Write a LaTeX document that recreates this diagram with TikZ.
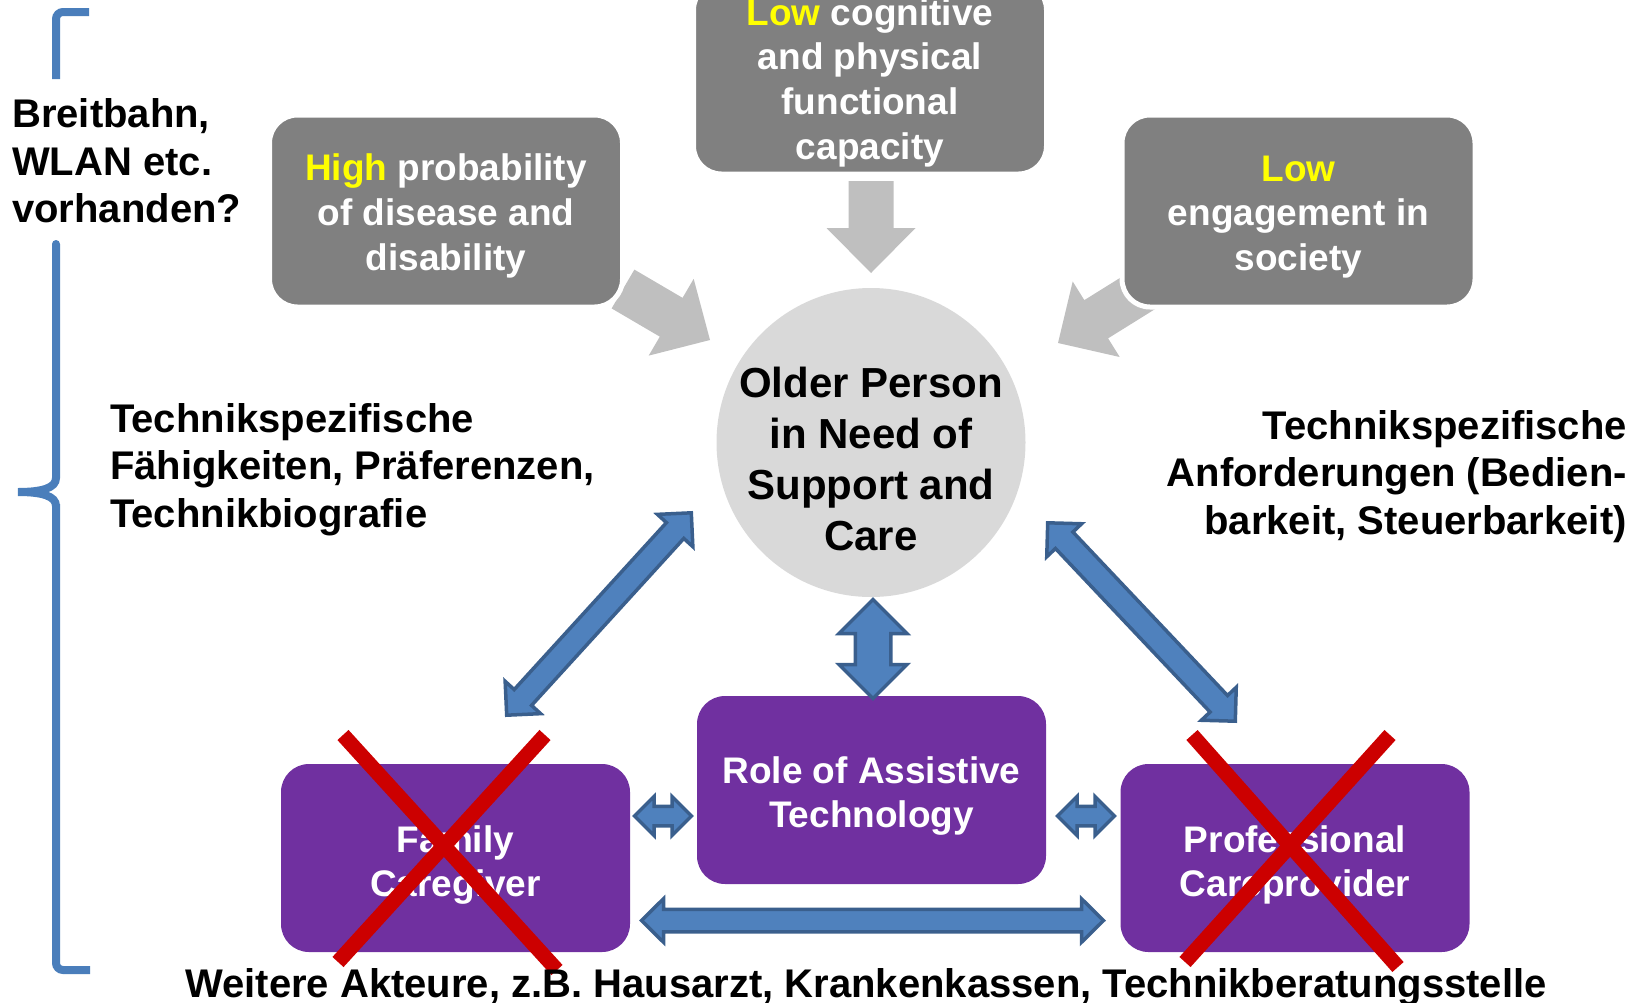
\documentclass[tikz,border=0pt]{standalone}
\usepackage{fontspec}
\setmainfont{Liberation Sans}
\usetikzlibrary{calc}
\definecolor{boxgray}{HTML}{808080}
\definecolor{arrgray}{HTML}{BFBFBF}
\definecolor{circgray}{HTML}{D9D9D9}
\definecolor{purp}{HTML}{7030A0}
\definecolor{bluefill}{HTML}{4F81BD}
\definecolor{blueline}{HTML}{3A5F8D}
\definecolor{bracketblue}{HTML}{4A7EBB}
\definecolor{redx}{HTML}{CC0000}
\definecolor{yel}{HTML}{FFFF00}

% single block arrow: [style]{tail}{tip}{half shaft}{half head}{head length}
\newcommand\blkarrowS[6][]{%
  \path ($(#3)!#6!(#2)$) coordinate (hbS);
  \filldraw[#1] ($(#2)!#4!90:(#3)$) -- ($(hbS)!#4!90:(#3)$) -- ($(hbS)!#5!90:(#3)$) -- (#3)
    -- ($(hbS)!#5!-90:(#3)$) -- ($(hbS)!#4!-90:(#3)$) -- ($(#2)!#4!-90:(#3)$) -- cycle;
}
% double block arrow: [style]{tip1}{tip2}{half shaft}{half head}{head length}
\newcommand\blkarrowD[6][]{%
  \path ($(#2)!#6!(#3)$) coordinate (haD) ($(#3)!#6!(#2)$) coordinate (hbD);
  \filldraw[#1] (#2) -- ($(haD)!#5!90:(#3)$) -- ($(haD)!#4!90:(#3)$) -- ($(hbD)!#4!90:(#3)$)
    -- ($(hbD)!#5!90:(#3)$) -- (#3) -- ($(hbD)!#5!-90:(#3)$) -- ($(hbD)!#4!-90:(#3)$)
    -- ($(haD)!#4!-90:(#3)$) -- ($(haD)!#5!-90:(#3)$) -- cycle;
}

\tikzset{
  grayarrow/.style={fill=arrgray, draw=none},
  bluearrow/.style={fill=bluefill, draw=blueline, line width=3.5pt, line join=miter},
  graybox/.style={rectangle, rounded corners=28pt, fill=boxgray, draw=white, line width=5pt,
    minimum width=353pt, minimum height=192pt, inner sep=0pt},
  purplebox/.style={rectangle, rounded corners=28pt, fill=purp, draw=none,
    minimum width=349pt, minimum height=188pt, inner sep=0pt},
  boxtext/.style={text=white, align=center, inner sep=0pt,
    font=\bfseries\fontsize{37}{44.7}\selectfont},
  circnode/.style={circle, fill=circgray, draw=none, minimum size=309pt, inner sep=0pt},
  circtext/.style={align=center, inner sep=0pt, font=\bfseries\fontsize{42}{51}\selectfont},
  sidetext/.style={inner sep=0pt, font=\bfseries\fontsize{40}{47.5}\selectfont},
  crossline/.style={draw=redx, line width=15pt},
  bracketline/.style={draw=bracketblue, line width=8pt},
}

\begin{document}
\begin{tikzpicture}[x=1pt,y=-1pt]
\useasboundingbox (0,0) rectangle (1639,1002);

% grey arrows towards the person
\coordinate (gaTt) at (871,181);  \coordinate (gaTp) at (871,273);
\coordinate (gaLt) at (623,289);  \coordinate (gaLp) at (710,340);
\coordinate (gaRt) at (1148,287); \coordinate (gaRp) at (1058,343);
\blkarrowS[grayarrow]{gaTt}{gaTp}{22.5pt}{44.5pt}{45pt}
\blkarrowS[grayarrow]{gaLt}{gaLp}{22.5pt}{44.5pt}{45pt}
\blkarrowS[grayarrow]{gaRt}{gaRp}{22.5pt}{44.5pt}{45pt}

% grey boxes
\node[graybox] (hp) at (446,211) {};
\node[boxtext] (hptext) at ($(hp)+(0,5)$) {{\color{yel}High} probability\\of disease and\\disability};
\node[graybox] (lc) at (870,78) {};
\node[boxtext] (lctext) at ($(lc)+(0,4.5)$) {{\color{yel}Low} cognitive\\and physical\\functional\\capacity};
\node[graybox] (le) at (1298.5,211) {};
\node[boxtext] (letext) at ($(le)+(0,6)$) {{\color{yel}Low}\\engagement in\\society};

% central person
\node[circnode] (op) at (871,442.5) {};
\node[circtext] (optext) at ($(op)+(0,16)$) {Older Person\\in Need of\\Support and\\Care};

% purple boxes
\node[purplebox] (fc) at (455.5,858) {};
\node[boxtext] (fctext) at ($(fc)+(0,7)$) {Family\\Caregiver};
\node[purplebox] (at) at (871.5,790) {};
\node[boxtext] (attext) at ($(at)+(0,6)$) {Role of Assistive\\Technology};
\node[purplebox] (pc) at (1295,858) {};
\node[boxtext] (pctext) at ($(pc)+(0,7)$) {Professional\\Careprovider};

% blue double arrows
\coordinate (bLa) at (506.7,715.2);  \coordinate (bLb) at (691.3,512.8);
\coordinate (bRa) at (1047.7,522.8); \coordinate (bRb) at (1235.3,721.2);
\coordinate (bVa) at (873,599.5);    \coordinate (bVb) at (873,698.5);
\coordinate (bSLa) at (634.5,816);   \coordinate (bSLb) at (691.5,816);
\coordinate (bSRa) at (1057.5,816);  \coordinate (bSRb) at (1114.5,816);
\coordinate (bBa) at (641.5,920.5);  \coordinate (bBb) at (1103.5,920.5);
\blkarrowD[bluearrow]{bLa}{bLb}{11.75pt}{24pt}{24pt}
\blkarrowD[bluearrow]{bRa}{bRb}{12pt}{24pt}{24pt}
\blkarrowD[bluearrow]{bVa}{bVb}{17.75pt}{34pt}{34pt}
\blkarrowD[bluearrow]{bSLa}{bSLb}{9.75pt}{19.5pt}{19.5pt}
\blkarrowD[bluearrow]{bSRa}{bSRb}{9.75pt}{19.5pt}{19.5pt}
\blkarrowD[bluearrow]{bBa}{bBb}{11.25pt}{21.75pt}{22pt}

% red crosses
\draw[crossline] (343,735) -- (557,970);
\draw[crossline] (545,735) -- (338,962);
\draw[crossline] (1192,735) -- (1398,967);
\draw[crossline] (1390,735) -- (1185,962);

% side texts
\node[sidetext, anchor=west, align=left] (bw) at (12,161) {Breitbahn,\\WLAN etc.\\vorhanden?};
\node[sidetext, anchor=west, align=left] (tl) at (110,469.4) {Technikspezifische\\Fähigkeiten, Präferenzen,\\Technikbiografie};
\node[sidetext, anchor=east, align=right] (tr) at (1627,476.5) {Technikspezifische\\Anforderungen (Bedien-\\barkeit, Steuerbarkeit)};
\node[sidetext, anchor=base] (wa) at (866,997) {Weitere Akteure, z.B. Hausarzt, Krankenkassen, Technikberatungsstelle};

% bracket
\draw[bracketline, rounded corners=7pt] (89,12) -- (56,12) -- (56,79);
\draw[bracketline, line cap=round] (56,244) -- (56,478)
  .. controls (56,488) and (42,492) .. (18,492)
  .. controls (42,492) and (56,496) .. (56,506);
\draw[bracketline, rounded corners=7pt] (56,504) -- (56,970) -- (90,970);
\end{tikzpicture}
\end{document}
